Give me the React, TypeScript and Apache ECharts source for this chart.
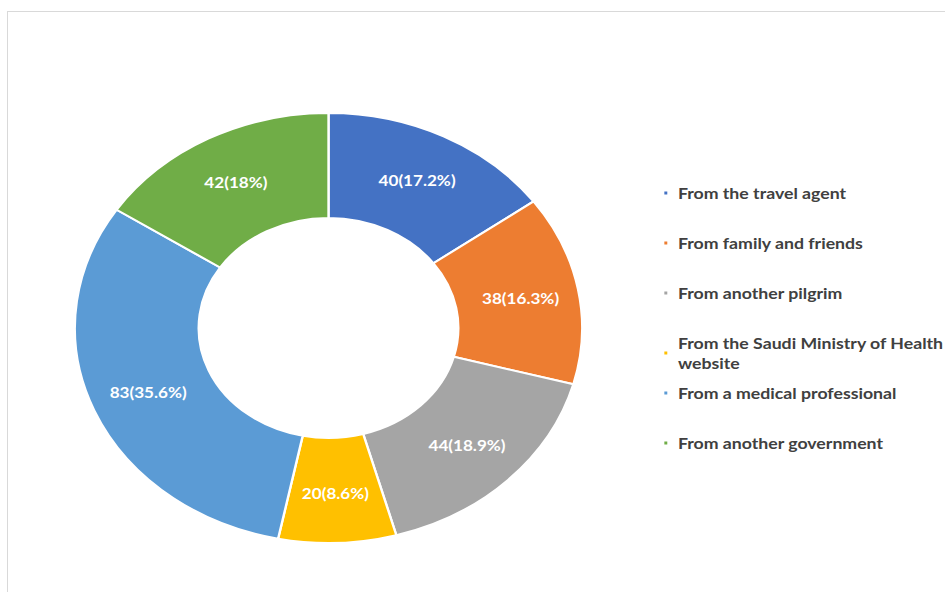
import React, { useEffect, useRef } from "react";
import * as echarts from "echarts";

const categories = [
  "From the travel agent",
  "From family and friends",
  "From another pilgrim",
  "From the Saudi Ministry of Health website",
  "From a medical professional",
  "From another government",
];
const counts = [40, 38, 44, 20, 83, 42];
const sliceLabels = ["40(17.2%)", "38(16.3%)", "44(18.9%)", "20(8.6%)", "83(35.6%)", "42(18%)"];
const colors = ["#4472C4", "#ED7D31", "#A5A5A5", "#FFC000", "#5B9BD5", "#70AD47"];

const SX = 1.18;
const W = 945;
const H = 592;

const legendText = {
  fontFamily: "Lato",
  fontWeight: "bold",
  fontSize: 15,
  lineHeight: 20,
  color: "#404040",
  padding: [0, 0, 0, 3],
};

const legendBase = {
  orient: "vertical",
  left: 561,
  padding: 0,
  itemGap: 30,
  itemWidth: 4.5,
  itemHeight: 5,
  icon: "rect",
  formatter: (name: string) =>
    name === "From the Saudi Ministry of Health website"
      ? "From the Saudi Ministry of Health\nwebsite"
      : name,
  textStyle: legendText,
};

export default function App() {
  const ref = useRef<HTMLDivElement>(null);
  useEffect(() => {
    if (!ref.current) return;
    const chart = echarts.init(ref.current, null, { renderer: "svg" });
    chart.setOption({
      animation: false,
      backgroundColor: "transparent",
      color: colors,
      legend: [
        { ...legendBase, top: 183, data: categories.slice(0, 4) },
        { ...legendBase, top: 383, data: categories.slice(4) },
      ],
      series: [
        {
          type: "pie",
          center: [278.4, 328],
          radius: [110, 215],
          startAngle: 90,
          clockwise: true,
          avoidLabelOverlap: false,
          itemStyle: { borderColor: "#ffffff", borderWidth: 2 },
          label: {
            show: true,
            position: "inside",
            color: "#ffffff",
            fontFamily: "Lato",
            fontWeight: "bold",
            fontSize: 14.5,
            formatter: (p: any) => sliceLabels[p.dataIndex],
          },
          labelLine: { show: false },
          emphasis: { disabled: true },
          data: categories.map((name, i) => ({ name, value: counts[i] })),
        },
      ],
    });
    return () => chart.dispose();
  }, []);
  return (
    <div
      style={{
        position: "fixed",
        left: 0,
        top: 0,
        width: W,
        height: H,
        overflow: "hidden",
        background: "#ffffff",
      }}
    >
      <div
        style={{
          position: "absolute",
          left: 7,
          top: 11,
          width: W,
          height: H,
          borderTop: "1px solid #d9d9d9",
          borderLeft: "1px solid #d9d9d9",
        }}
      />
      <div
        ref={ref}
        style={{
          position: "absolute",
          left: 0,
          top: 0,
          width: W / SX,
          height: H,
          transform: `scaleX(${SX})`,
          transformOrigin: "0 0",
        }}
      />
    </div>
  );
}
